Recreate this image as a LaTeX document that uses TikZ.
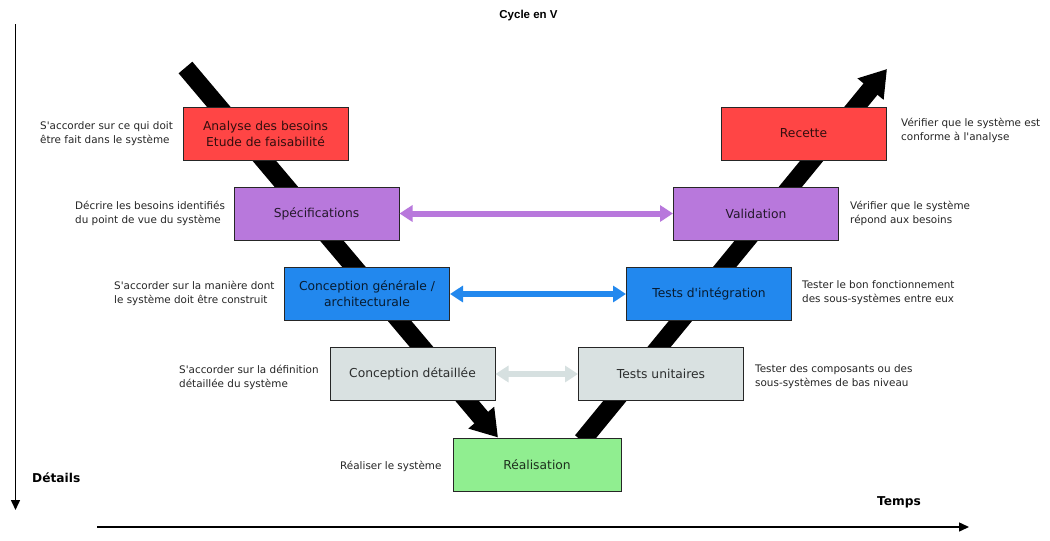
\documentclass[tikz,border=0pt]{standalone}
\usepackage{fontspec}
\setmainfont{DejaVu Sans}
\newfontfamily\arialfont{Liberation Sans}
\usetikzlibrary{arrows.meta,backgrounds}
\definecolor{cred}{HTML}{FF4545}
\definecolor{cpurple}{HTML}{B878DC}
\definecolor{cblue}{HTML}{2288EE}
\definecolor{cgrey}{HTML}{D9E1E1}
\definecolor{cgreen}{HTML}{90EE90}
\definecolor{cgreyarrow}{HTML}{D6E0E0}
\newcommand{\apos}{\textquotesingle}
\tikzset{
  phase/.style={draw=black!85, line width=1pt, minimum width=165pt, minimum height=53pt,
    inner sep=0pt, align=center, font=\fontsize{12.3}{16}\selectfont},
  note/.style={anchor=west, align=left, inner sep=0pt, text=black!85,
    font=\fontsize{10.4}{14}\selectfont},
  axislabel/.style={inner sep=0pt, font=\bfseries\fontsize{12.2}{14}\selectfont},
  vshaft/.style={line width=18pt, black, -{Triangle[length=26pt,width=32pt]}},
  harrow/.style={line width=6pt, {Triangle[length=13pt,width=16pt]}-{Triangle[length=13pt,width=16pt]}},
  axis/.style={line width=1.5pt, -{Triangle[length=10pt,width=9pt]}}
}
\begin{document}
\begin{tikzpicture}[x=1pt,y=-1pt]
\useasboundingbox (0,0) rectangle (1050,541);

% title and axis labels
\node[inner sep=0pt, font=\arialfont\bfseries\fontsize{11.5}{13}\selectfont] (title) at (528.5,16) {Cycle en V};
\node[axislabel, anchor=west] (det) at (32,478) {Détails};
\node[axislabel, anchor=west] (tps) at (877,502) {Temps};

% phase boxes
\node[phase, fill=cred, text=cred!20!black] (ana) at (265.5,133.5) {Analyse des besoins\\Etude de faisabilité};
\node[phase, fill=cpurple, text=cpurple!20!black] (spec) at (316.5,213.5) {Spécifications};
\node[phase, fill=cblue, text=cblue!20!black] (cg) at (367,294) {Conception générale /\\architecturale};
\node[phase, fill=cgrey, text=cgrey!20!black] (cd) at (412.5,374) {Conception détaillée};
\node[phase, fill=cgreen, text=cgreen!20!black, minimum width=168pt] (real) at (537,464.5) {Réalisation};
\node[phase, fill=cgrey, text=cgrey!20!black] (tu) at (661,374) {Tests unitaires};
\node[phase, fill=cblue, text=cblue!20!black] (ti) at (709,294) {Tests d\apos intégration};
\node[phase, fill=cpurple, text=cpurple!20!black] (val) at (756,213.5) {Validation};
\node[phase, fill=cred, text=cred!20!black] (rec) at (803.5,133.5) {Recette};

% the V
\coordinate (lstart) at (185.5,67.5);
\coordinate (ltip) at (498,437.5);
\coordinate (rstart) at (582,441);
\coordinate (rtip) at (887,69);
\begin{pgfonlayer}{background}
\fill[white] (0,0) rectangle (1050,541);
\draw[vshaft] (lstart) -- (ltip);
\draw[vshaft] (rstart) -- (rtip);
\end{pgfonlayer}

% horizontal correspondences
\draw[harrow, cpurple] (spec) -- (val);
\draw[harrow, cblue] (cg) -- (ti);
\draw[harrow, cgreyarrow] (cd) -- (tu);

% notes
\node[note] (n1) at (40,134) {S\apos accorder sur ce qui doit\\être fait dans le système};
\node[note] (n2) at (75,213.5) {Décrire les besoins identifiés\\du point de vue du système};
\node[note] (n3) at (114,293) {S\apos accorder sur la manière dont\\le système doit être construit};
\node[note] (n4) at (179,377) {S\apos accorder sur la définition\\détaillée du système};
\node[note] (n5) at (340,466) {Réaliser le système};
\node[note] (n6) at (901,130) {Vérifier que le système est\\conforme à l\apos analyse};
\node[note] (n7) at (850,213.5) {Vérifier que le système\\répond aux besoins};
\node[note] (n8) at (802,293) {Tester le bon fonctionnement\\des sous-systèmes entre eux};
\node[note] (n9) at (755,377) {Tester des composants ou des\\sous-systèmes de bas niveau};

% axes
\coordinate (vtop) at (15.5,24);
\coordinate (vbot) at (15.5,510);
\coordinate (hleft) at (97,527);
\coordinate (hright) at (969,527);
\draw[axis] (vtop) -- (vbot);
\draw[axis] (hleft) -- (hright);
\end{tikzpicture}
\end{document}
